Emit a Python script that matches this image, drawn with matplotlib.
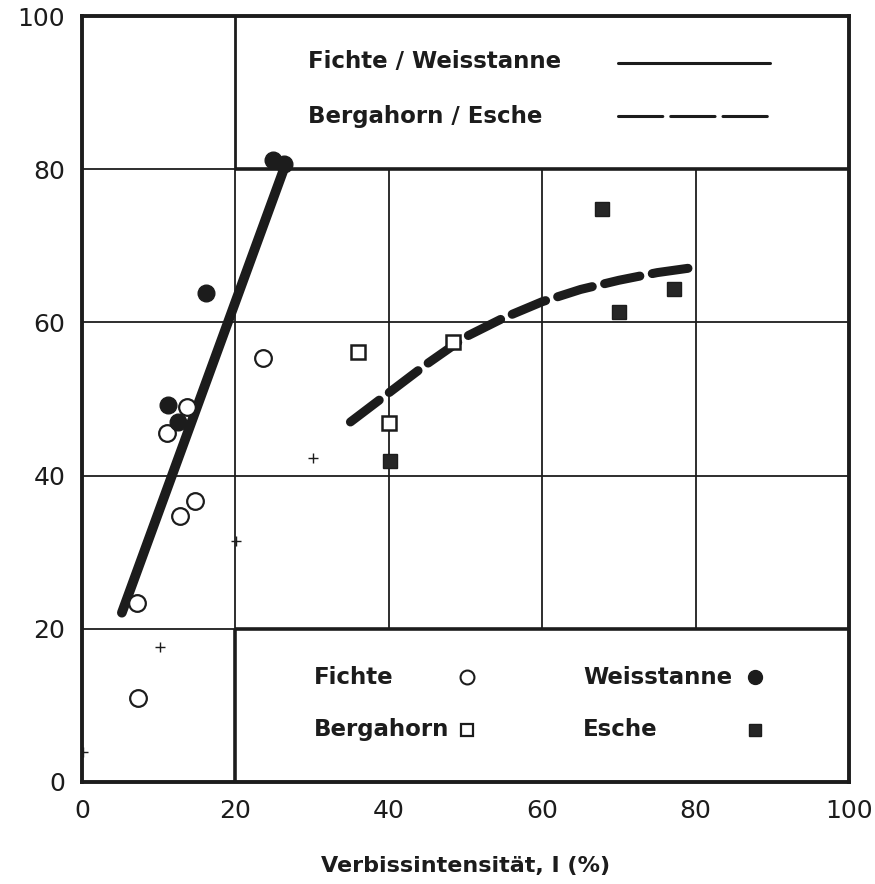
import matplotlib
matplotlib.use("Agg")
import matplotlib.pyplot as plt

# ---- data ----
fichte_x = [7.3, 7.2, 11.1, 12.8, 13.7, 14.7, 23.6]
fichte_y = [11.0, 23.4, 45.6, 34.7, 49.0, 36.7, 55.4]

weisstanne_x = [11.2, 12.5, 16.2, 24.9, 26.4]
weisstanne_y = [49.2, 47.0, 63.8, 81.2, 80.7]

bergahorn_x = [36.0, 40.0, 48.4]
bergahorn_y = [56.1, 46.9, 57.4]

esche_x = [40.2, 67.8, 70.0, 77.2]
esche_y = [41.9, 74.8, 61.4, 64.4]

plus_x = [0.1, 10.2, 20.1, 30.1]
plus_y = [3.9, 17.6, 31.5, 42.3]

line_fw_x = [5.2, 26.5]
line_fw_y = [22.1, 80.5]

curve_be_x = [35, 40, 45, 50, 55, 60, 65, 70, 75, 80]
curve_be_y = [47.0, 50.8, 54.6, 58.1, 60.6, 62.7, 64.3, 65.5, 66.5, 67.2]

x_ticks = [0, 20, 40, 60, 80, 100]
y_ticks = [0, 20, 40, 60, 80, 100]
x_label = "Verbissintensität, I (%)"

ink = "#1c1c1c"

fig = plt.figure(figsize=(8.75, 8.84), dpi=100)
ax = fig.add_axes([0.0937, 0.1154, 0.8766, 0.8665])
ax.set_xlim(0, 100)
ax.set_ylim(0, 100)

# frame
for s in ax.spines.values():
    s.set_linewidth(2.8)
    s.set_color(ink)

# grid structure
thin = 1.3
thick = 2.6
ax.vlines(20, 20, 80, color=ink, lw=thin, zorder=1)
ax.vlines(20, 80, 100, color=ink, lw=2.0, zorder=1)
ax.vlines(20, 0, 20, color=ink, lw=thick, zorder=1)
for xv in [40, 60, 80]:
    ax.vlines(xv, 20, 80, color=ink, lw=thin, zorder=1)
for yv in [20, 40, 60, 80]:
    ax.hlines(yv, 0, 20, color=ink, lw=thin, zorder=1)
for yv in [40, 60]:
    ax.hlines(yv, 20, 100, color=ink, lw=thin, zorder=1)
ax.hlines(80, 20, 100, color=ink, lw=thick, zorder=1)
ax.hlines(20, 20, 100, color=ink, lw=thick, zorder=1)

# regression lines
ax.plot(line_fw_x, line_fw_y, color=ink, lw=7, solid_capstyle="round", zorder=3)
ax.plot(curve_be_x, curve_be_y, color=ink, lw=6.5, dash_capstyle="round",
        dashes=(4.0, 1.4), zorder=3)

# points
ax.plot(fichte_x, fichte_y, "o", ms=12, mfc="white", mec=ink, mew=1.6, zorder=4)
ax.plot(weisstanne_x, weisstanne_y, "o", ms=12, mfc=ink, mec=ink, zorder=4)
ax.plot(bergahorn_x, bergahorn_y, "s", ms=9.5, mfc="white", mec=ink, mew=1.8, zorder=4)
ax.plot(esche_x, esche_y, "s", ms=10, mfc="#262626", mec=ink, zorder=4)
ax.plot(plus_x, plus_y, "+", ms=7, mec=ink, mew=1.0, zorder=4)

# top legend box
fs = 16.5
ax.text(29.5, 94.0, "Fichte / Weisstanne", fontsize=fs, fontweight="bold", color=ink,
        va="center", ha="left")
ax.text(29.5, 86.9, "Bergahorn / Esche", fontsize=fs, fontweight="bold", color=ink,
        va="center", ha="left")
ax.plot([69.9, 89.7], [93.9, 93.9], color=ink, lw=2.2, solid_capstyle="round")
ax.plot([69.9, 89.9], [86.9, 86.9], color=ink, lw=2.2, dash_capstyle="round",
        dashes=(14.5, 2.6))

# bottom legend box
ax.text(30.2, 13.7, "Fichte", fontsize=fs, fontweight="bold", color=ink, va="center")
ax.text(30.2, 6.8, "Bergahorn", fontsize=fs, fontweight="bold", color=ink, va="center")
ax.text(65.3, 13.7, "Weisstanne", fontsize=fs, fontweight="bold", color=ink, va="center")
ax.text(65.3, 6.8, "Esche", fontsize=fs, fontweight="bold", color=ink, va="center")
ax.plot([50.2], [13.7], "o", ms=10, mfc="white", mec=ink, mew=1.5)
ax.plot([50.2], [6.8], "s", ms=8, mfc="white", mec=ink, mew=1.6)
ax.plot([87.7], [13.7], "o", ms=10, mfc=ink, mec=ink)
ax.plot([87.7], [6.8], "s", ms=8.5, mfc="#262626", mec=ink)

# ticks
ax.set_xticks(x_ticks)
ax.set_yticks(y_ticks)
ax.set_xticklabels([str(v) for v in x_ticks], fontsize=18, color=ink)
ax.set_yticklabels([str(v) for v in y_ticks], fontsize=18, color=ink)
ax.tick_params(length=0, pad=12)
ax.set_xlabel(x_label, fontsize=16, fontweight="bold", color=ink, labelpad=24)

fig.savefig("out.png", dpi=100, facecolor="white")
